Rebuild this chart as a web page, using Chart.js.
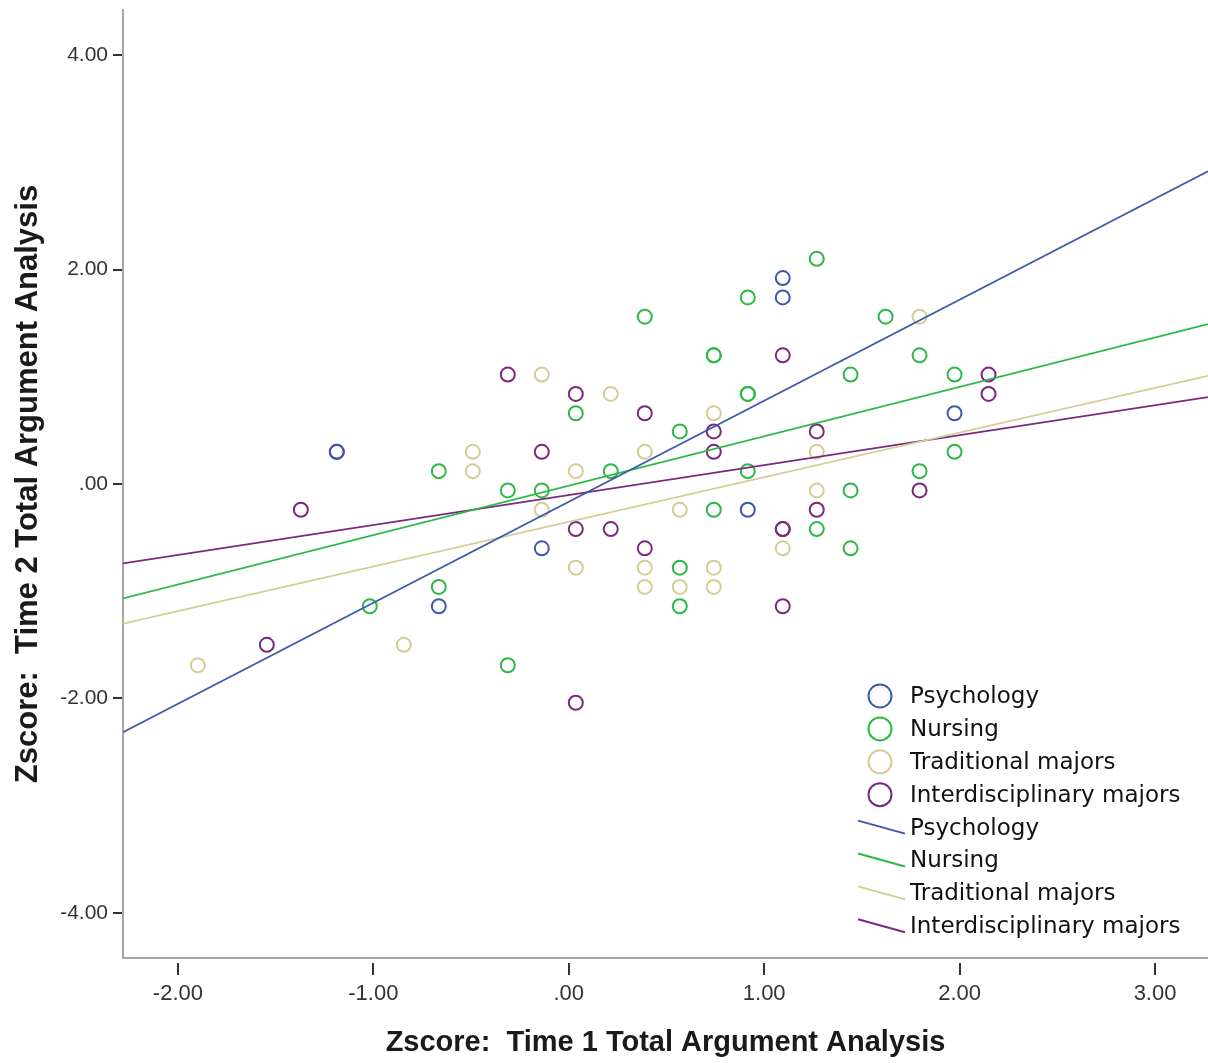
<!DOCTYPE html>
<html>
<head>
<meta charset="utf-8">
<script src="https://cdn.jsdelivr.net/npm/chart.js@4.4.1/dist/chart.umd.min.js"></script>
<style>
  html, body { margin: 0; padding: 0; background: #fff; }
  #wrap { width: 1208px; height: 1063px; }
</style>
</head>
<body>
<div id="wrap"><canvas id="chart" width="1208" height="1063"></canvas></div>
<script>
const groups = ['Psychology', 'Nursing', 'Traditional majors', 'Interdisciplinary majors'];
const colors = ['rgb(62,88,172)', 'rgb(46,184,72)', 'rgb(211,206,151)', 'rgb(124,40,125)'];

// axis ranges and ticks
const xRange = [-2.281, 3.271];
const yRange = [-4.42, 4.42];
const xTicks = [-2, -1, 0, 1, 2, 3];
const yTicks = [-4, -2, 0, 2, 4];

// fit lines
const intercepts = [-0.165, -0.016, -0.353, -0.103];
const slopes = [0.942, 0.461, 0.416, 0.279];

// scatter points, Time 1 (x) vs Time 2 (y)
const psychX = [-1.187, -0.665, -0.138, 0.916, 1.095, 1.095, 1.974];
const psychY = [0.30, -1.14, -0.60, -0.24, 1.92, 1.74, 0.66];

const nursX = [-1.018, -0.665, -0.665, -0.312, -0.312, -0.138, 0.036, 0.215, 0.389, 0.568,
  0.568, 0.568, 0.742, 0.742, 0.742, 0.916, 0.916, 0.916, 0.916, 1.269,
  1.269, 1.442, 1.442, 1.442, 1.621, 1.795, 1.795, 1.974, 1.974];
const nursY = [-1.14, -0.96, 0.12, -0.06, -1.69, -0.06, 0.66, 0.12, 1.56, 0.49,
  -0.78, -1.14, 1.20, 1.20, -0.24, 1.74, 0.84, 0.84, 0.12, 2.10,
  -0.42, 1.02, -0.06, -0.60, 1.56, 1.20, 0.12, 1.02, 0.30];

const tradX = [-1.898, -0.844, -0.491, -0.491, -0.138, -0.138, 0.036, 0.036, 0.215, 0.389,
  0.389, 0.389, 0.568, 0.568, 0.742, 0.742, 0.742, 1.095, 1.269, 1.269, 1.795];
const tradY = [-1.69, -1.50, 0.30, 0.12, 1.02, -0.24, 0.12, -0.78, 0.84, 0.30,
  -0.78, -0.96, -0.24, -0.96, 0.66, -0.78, -0.96, -0.60, 0.30, -0.06, 1.56];

const interX = [-1.545, -1.371, -1.187, -0.312, -0.138, 0.036, 0.036, 0.036, 0.215, 0.389,
  0.389, 0.742, 0.742, 1.095, 1.095, 1.095, 1.095, 1.269, 1.269, 1.795, 2.148, 2.148];
const interY = [-1.50, -0.24, 0.30, 1.02, 0.30, 0.84, -0.42, -2.04, -0.42, 0.66,
  -0.60, 0.49, 0.30, 1.20, -0.42, -0.42, -1.14, 0.49, -0.24, -0.06, 1.02, 0.84];

const pointsX = [psychX, nursX, tradX, interX];
const pointsY = [psychY, nursY, tradY, interY];

const fmt = v => {
  const s = Number(v).toFixed(2);
  return s.replace(/^(-?)0\./, '$1.');
};

const datasets = [];
groups.forEach((g, i) => {
  datasets.push({
    type: 'scatter',
    label: g,
    data: pointsX[i].map((x, k) => ({ x: x, y: pointsY[i][k] })),
    borderColor: colors[i],
    backgroundColor: 'rgba(0,0,0,0)',
    pointRadius: 7,
    pointBorderWidth: 2,
    order: 1
  });
});
groups.forEach((g, i) => {
  datasets.push({
    type: 'line',
    label: g + ' fit',
    data: xRange.map(x => ({ x: x, y: intercepts[i] + slopes[i] * x })),
    borderColor: colors[i],
    borderWidth: 1.7,
    pointRadius: 0,
    fill: false,
    order: 0
  });
});

// SPSS style tick marks under the x axis, detached from the axis line
const xTickMarks = {
  id: 'xTickMarks',
  afterDraw(chart) {
    const { ctx, chartArea } = chart;
    const x = chart.scales.x;
    ctx.save();
    ctx.strokeStyle = '#333';
    ctx.lineWidth = 2;
    x.ticks.forEach(t => {
      const px = Math.round(x.getPixelForValue(t.value));
      ctx.beginPath();
      ctx.moveTo(px, chartArea.bottom + 5);
      ctx.lineTo(px, chartArea.bottom + 17);
      ctx.stroke();
    });
    ctx.restore();
  }
};

// legend inside the plot, bottom right
const insideLegend = {
  id: 'insideLegend',
  afterDraw(chart) {
    const ctx = chart.ctx;
    const top = 696, step = 32.9;
    ctx.save();
    ctx.font = '23px "DejaVu Sans", sans-serif';
    ctx.textBaseline = 'middle';
    ctx.textAlign = 'left';
    groups.forEach((g, i) => {
      const y = top + i * step;
      ctx.strokeStyle = colors[i];
      ctx.lineWidth = 2;
      ctx.beginPath();
      ctx.arc(880, y, 11.5, 0, Math.PI * 2);
      ctx.stroke();
      ctx.fillStyle = '#111';
      ctx.fillText(g, 910, y + 1);
    });
    groups.forEach((g, i) => {
      const y = top + (i + 4) * step;
      ctx.strokeStyle = colors[i];
      ctx.lineWidth = 2;
      ctx.beginPath();
      ctx.moveTo(858, y - 7);
      ctx.lineTo(905, y + 6);
      ctx.stroke();
      ctx.fillStyle = '#111';
      ctx.fillText(g, 910, y + 1);
    });
    ctx.restore();
  }
};

Chart.defaults.font.family = '"Liberation Sans", Arial, sans-serif';

new Chart(document.getElementById('chart'), {
  type: 'scatter',
  data: { datasets: datasets },
  options: {
    responsive: false,
    animation: false,
    layout: { autoPadding: false, padding: { top: 10, right: 0, left: 0, bottom: 0 } },
    plugins: {
      legend: { display: false },
      tooltip: { enabled: false }
    },
    scales: {
      x: {
        type: 'linear',
        min: xRange[0],
        max: xRange[1],
        afterFit: s => { s.height = 105; s.paddingLeft = 0; s.paddingRight = 0; },
        afterBuildTicks: s => { s.ticks = xTicks.map(v => ({ value: v })); },
        grid: { display: true, drawOnChartArea: false, drawTicks: false },
        border: { display: true, color: '#a6a6a6', width: 2 },
        ticks: { callback: fmt, color: '#333', font: { size: 22 }, padding: 23, maxRotation: 0 },
        title: {
          display: true,
          text: 'Zscore:  Time 1 Total Argument Analysis',
          color: '#1a1a1a',
          font: { size: 29, weight: 'bold' },
          padding: { top: 0, bottom: 3 }
        }
      },
      y: {
        type: 'linear',
        min: yRange[0],
        max: yRange[1],
        afterFit: s => { s.width = 123; s.paddingTop = 0; s.paddingBottom = 0; },
        afterBuildTicks: s => { s.ticks = yTicks.map(v => ({ value: v })); },
        grid: { display: true, drawOnChartArea: false, drawTicks: true, tickLength: 10, color: '#333', lineWidth: 2 },
        border: { display: true, color: '#a6a6a6', width: 2 },
        ticks: { callback: fmt, color: '#333', font: { size: 21 }, padding: 5 },
        title: {
          display: true,
          text: 'Zscore:  Time 2 Total Argument Analysis',
          color: '#1a1a1a',
          font: { size: 31, weight: 'bold' },
          padding: { top: 10, bottom: 0 }
        }
      }
    }
  },
  plugins: [xTickMarks, insideLegend]
});
</script>
</body>
</html>
